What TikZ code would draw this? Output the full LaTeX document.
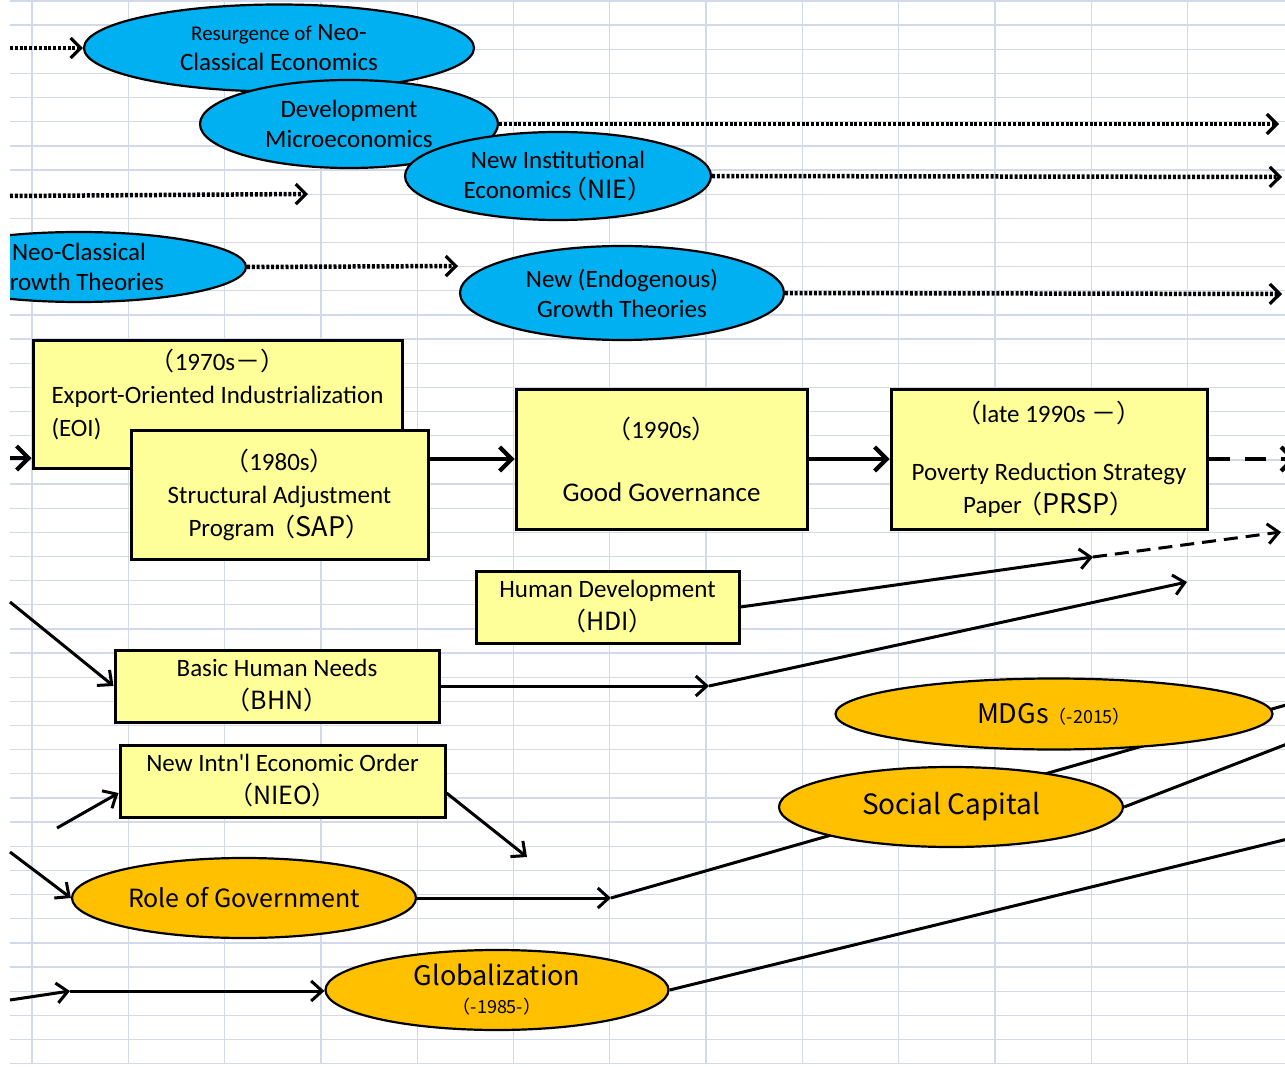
\documentclass[tikz,border=0pt]{standalone}
\usepackage{fontspec}
\setmainfont{Carlito}[Ligatures=TeXOff]
\newfontfamily\jp{Noto Sans CJK JP}
\usetikzlibrary{shapes.geometric,arrows.meta}
\definecolor{cyanfill}{HTML}{00B0F0}
\definecolor{goldfill}{HTML}{FFC000}
\definecolor{boxfill}{HTML}{FFFF99}
\definecolor{gridcol}{HTML}{D2DAEA}
\pgfdeclarelayer{gridlayer}
\pgfdeclarelayer{edgelayer}
\pgfsetlayers{gridlayer,edgelayer,main}
\newcommand{\fs}[1]{\fontsize{#1}{30}\selectfont}
\begin{document}
\begin{tikzpicture}[x=1pt,y=-1pt,
  base/.style={font=\fontsize{25}{30}\selectfont, align=center},
  blueell/.style={base, ellipse, draw=black, line width=2.2pt, fill=cyanfill, inner xsep=0pt, inner ysep=-12pt},
  goldell/.style={base, ellipse, draw=black, line width=2.2pt, fill=goldfill, inner xsep=0pt, inner ysep=-12pt},
  ybox/.style={base, font=\fontsize{25}{33}\selectfont, rectangle, draw=black, line width=3pt, fill=boxfill, inner sep=0pt},
  gridline/.style={draw=gridcol, line width=1.3pt},
  dotarrow/.style={line width=4.5pt, dash pattern=on 3pt off 1.8pt, -{Straight Barb[length=10pt,width=20pt,line width=3.2pt]}},
  thickarrow/.style={line width=4.2pt, -{Straight Barb[length=12pt,width=24pt]}},
  thickdash/.style={line width=4.2pt, dash pattern=on 21pt off 15pt, -{Straight Barb[length=12pt,width=24pt]}},
  thinarrow/.style={line width=3pt, -{Straight Barb[length=11pt,width=20pt]}},
  thindash/.style={line width=3pt, dash pattern=on 14pt off 8pt, -{Straight Barb[length=11pt,width=20pt]}},
  thinline/.style={line width=3pt}
]
\useasboundingbox (0,0) rectangle (1285,1067);
\begin{pgfonlayer}{gridlayer}
  \fill[white] (0,0) rectangle (1285,1067);
  \foreach \k in {0,...,44} \draw[gridline] (10,{1+24.15*\k}) -- (1285,{1+24.15*\k});
  \foreach \k in {0,...,12} \draw[gridline] ({32+96.3*\k},0) -- ({32+96.3*\k},1064);
\end{pgfonlayer}

% blue ellipses
\node[blueell, minimum width=390pt, minimum height=87pt] (res) at (279,48) {{\fs{21}Resurgence of} Neo-\\Classical Economics};
\node[blueell, minimum width=298pt, minimum height=88pt] (dev) at (349,124) {Development\\Microeconomics};
\node[blueell, minimum width=306pt, minimum height=88pt] (nie) at (558,176) {New Institutional\\Economics\hspace{-9pt}{\jp（NIE）}};
\begin{scope}
  \clip (10,0) rectangle (1285,1067);
  \node[blueell, minimum width=334pt, minimum height=70pt] (ncg) at (79,267) {Neo-Classical\\Growth Theories};
\end{scope}
\node[blueell, minimum width=324pt, minimum height=94pt] (neg) at (622,293) {New (Endogenous)\\Growth Theories};

% yellow boxes
\node[ybox, minimum width=369pt, minimum height=128pt] (eoi) at (217.5,404)
  {\raisebox{7.5pt}[\height][\depth]{\begin{tabular}{@{}l@{}}\multicolumn{1}{@{}c@{}}{{\jp（}1970s{\jp －）}}\\Export-Oriented Industrialization\\(EOI)\end{tabular}}};
\node[ybox, minimum width=297pt, minimum height=129pt] (sap) at (279.5,494.5)
  {{\jp（}1980s{\jp）}\\Structural Adjustment\\Program\hspace{-4pt}{\jp（{\fs{27}SAP}）}};
\node[ybox, minimum width=291pt, minimum height=140pt] (gg) at (661.5,459)
  {{\jp（}1990s{\jp）}\\[30pt]{\fs{27}Good Governance}};
\node[ybox, minimum width=316pt, minimum height=140pt] (prsp) at (1049,459)
  {{\jp（}late 1990s {\jp －）}\\[25pt]Poverty Reduction Strategy\\Paper\hspace{-4pt}{\jp（{\fs{27}PRSP}）}};
\node[ybox, minimum width=263pt, minimum height=72pt] (hdi) at (607.5,607) {Human Development\\{\jp（HDI）}};
\node[ybox, minimum width=324pt, minimum height=72pt] (bhn) at (277,686) {Basic Human Needs\\{\jp（BHN）}};
\node[ybox, minimum width=325pt, minimum height=72pt] (nieo) at (282.5,781) {New Intn'l Economic Order\\{\jp（NIEO）}};

% gold ellipses
\node[goldell, minimum width=437pt, minimum height=71pt] (mdg) at (1054,714) {{\jp\fs{27}MDGs{\fs{18}（-2015）}}};
\node[goldell, minimum width=344pt, minimum height=80pt] (soc) at (951,807) {{\jp\fs{28}Social Capital}};
\node[goldell, minimum width=344pt, minimum height=80pt] (rog) at (244,898) {{\jp\fs{25}Role of Government}};
\node[goldell, minimum width=343pt, minimum height=80pt] (glo) at (497,990) {{\jp\fs{27}Globalization}\\[-2pt]{\jp\fs{18}（-1985-）}};

% connectors
\begin{pgfonlayer}{edgelayer}
  \coordinate (a1) at (10,48);
  \coordinate (a2) at (1279,124);
  \coordinate (a3) at (1282,177);
  \coordinate (a4s) at (10,196);
  \coordinate (a4e) at (308,194);
  \coordinate (a5) at (458,266);
  \coordinate (a6) at (1282,294);
  \draw[dotarrow] (a1) -- (res.west);
  \draw[dotarrow] (dev.east) -- (a2);
  \draw[dotarrow] (nie.east) -- (a3);
  \draw[dotarrow] (a4s) -- (a4e);
  \draw[dotarrow] (ncg.east) -- (a5);
  \draw[dotarrow] (neg.east) -- (a6);

  \coordinate (b1) at (10,458);
  \coordinate (b2) at (1296,459);
  \draw[thickarrow] (b1) -- (b1 -| eoi.west);
  \draw[thickarrow] (gg.west -| sap.east) -- (gg.west);
  \draw[thickarrow] (gg.east) -- (prsp.west);
  \draw[thickdash] (prsp.east) -- (b2);

  \coordinate (c1) at (1093,557);
  \coordinate (c2) at (1281,532);
  \draw[thinarrow] (hdi.east) -- (c1);
  \draw[thindash] (c1) -- (c2);

  \coordinate (d0) at (10,602);
  \coordinate (d1) at (709,686);
  \coordinate (d2) at (1187,582);
  \draw[thinarrow] (d0) -- (bhn.west);
  \draw[thinarrow] (bhn.east) -- (d1);
  \draw[thinarrow] (d1) -- (d2);

  \coordinate (e0) at (57,828);
  \coordinate (e2) at (527,857);
  \draw[thinarrow] (e0) -- ([yshift=-12pt]nieo.west);
  \draw[thinarrow] ([yshift=-12pt]nieo.east) -- (e2);

  \coordinate (f0) at (10,852);
  \coordinate (f1) at (611,898);
  \coordinate (f2) at (1300,701);
  \draw[thinarrow] (f0) -- (rog.west);
  \draw[thinarrow] (rog.east) -- (f1);
  \draw[thinline] (f1) -- (f2);

  \coordinate (g1) at (1300,739);
  \draw[thinline] (soc.east) -- (g1);

  \coordinate (h0) at (10,1000);
  \coordinate (h1) at (70,991);
  \coordinate (h2) at (1300,836);
  \draw[thinarrow] (h0) -- (h1);
  \draw[thinarrow] (h1) -- (h1 -| glo.west);
  \draw[thinline] (glo.east) -- (h2);
\end{pgfonlayer}
\end{tikzpicture}
\end{document}
